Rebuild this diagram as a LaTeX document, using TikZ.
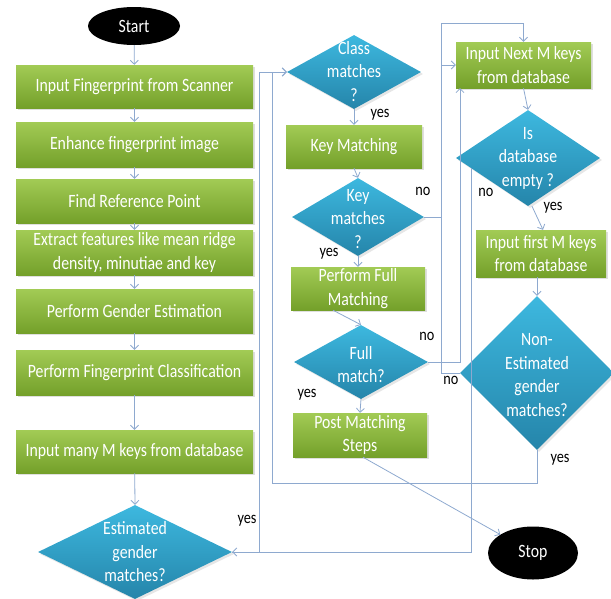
\documentclass[tikz,border=0pt]{standalone}
\usepackage{fontspec}
\setmainfont{Carlito}[FakeStretch=0.84]
\usetikzlibrary{shapes.geometric,arrows.meta,shadows}
\definecolor{gtop}{HTML}{A2CB55}
\definecolor{gbot}{HTML}{74A02A}
\definecolor{btop}{HTML}{3DB8DF}
\definecolor{bbot}{HTML}{2585AA}
\definecolor{lnk}{HTML}{8EA9CF}
\begin{document}
\begin{tikzpicture}[x=1pt,y=-1pt,
  txt/.style={font=\fontsize{18.8}{23.5}\selectfont, text=white, align=center},
  greenbox/.style={rectangle, inner sep=0pt, top color=gtop, bottom color=gbot, draw=none,
    txt, drop shadow={opacity=0.25, shadow xshift=2pt, shadow yshift=-2pt}},
  dia/.style={diamond, inner sep=0pt, top color=btop, bottom color=bbot, draw=none,
    drop shadow={opacity=0.2, shadow xshift=2pt, shadow yshift=-2pt}},
  term/.style={ellipse, fill=black, draw=none, text=white, inner sep=0pt,
    font=\fontsize{18.8}{22}\selectfont},
  conn/.style={draw=lnk, line width=0.8pt, -{Straight Barb[length=4pt,width=8pt]}},
  lbl/.style={font=\fontsize{17}{19}\selectfont, text=black, inner sep=0pt}
]
\useasboundingbox (0,0) rectangle (611,598);

% terminals
\node[term, minimum width=92pt, minimum height=38pt] (start) at (134,26) {Start};
\node[term, minimum width=90pt, minimum height=53pt] (stop) at (533,553) {Stop};

% left column
\node[greenbox, minimum width=237pt, minimum height=43pt] (b1) at (134.5,86.5) {Input Fingerprint from Scanner};
\node[greenbox, minimum width=237pt, minimum height=45pt] (b2) at (134.5,144.5) {Enhance fingerprint image};
\node[greenbox, minimum width=237pt, minimum height=44pt] (b3) at (134.5,201) {Find Reference Point};
\node[greenbox, minimum width=237pt, minimum height=45pt] (b4) at (134.5,252.5) {Extract features like mean ridge\\density, minutiae and key};
\node[greenbox, minimum width=237pt, minimum height=44pt] (b5) at (134.5,311) {Perform Gender Estimation};
\node[greenbox, minimum width=237pt, minimum height=45pt] (b6) at (134.5,372.5) {Perform Fingerprint Classification};
\node[greenbox, minimum width=237pt, minimum height=43pt] (b7) at (134.5,451.5) {Input many M keys from database};

\node[dia, minimum width=194pt, minimum height=94pt] (eq) at (135,552) {};
\node[txt] (eqt) at (135,552) {Estimated\\gender\\matches?};

% middle column
\node[dia, minimum width=134pt, minimum height=74pt] (cm) at (354,72) {};
\node[txt] (cmt) at (354,71.5) {Class\\matches\\?};
\node[greenbox, minimum width=136pt, minimum height=43pt] (km) at (354,146.5) {Key Matching};
\node[dia, minimum width=132pt, minimum height=78pt] (kq) at (358,217) {};
\node[txt] (kqt) at (358,219) {Key\\matches\\?};
\node[greenbox, minimum width=134pt, minimum height=43pt] (pf) at (358,288.5) {Perform Full\\Matching};
\node[dia, minimum width=134pt, minimum height=74pt] (fq) at (361,362) {};
\node[txt] (fqt) at (361,364.5) {Full\\match?};
\node[greenbox, minimum width=134pt, minimum height=44pt] (pm) at (360,435) {Post Matching\\Steps};

% right column
\node[greenbox, minimum width=135pt, minimum height=46pt] (in) at (523.5,65) {Input Next M keys\\from database};
\node[dia, minimum width=144pt, minimum height=96pt] (dq) at (528,158) {};
\node[txt] (dqt) at (528,158) {Is\\database\\empty ?};
\node[greenbox, minimum width=130pt, minimum height=47pt] (if) at (541,253.5) {Input first M keys\\from database};
\node[dia, minimum width=154pt, minimum height=154pt] (nq) at (537,373) {};
\node[txt] (nqt) at (537,375) {Non-\\Estimated\\gender\\matches?};

% bend points
\coordinate (p1) at (259,552);
\coordinate (p2) at (272,483);
\coordinate (p3) at (441,217);
\coordinate (p4) at (460,88);
\coordinate (p5) at (441,23);
\coordinate (p6) at (471,168);

% main column arrows
\draw[conn] (start) -- (b1);
\draw[conn] (b1) -- (b2);
\draw[conn] (b2) -- (b3);
\draw[conn] (b3) -- (b4);
\draw[conn] (b4) -- (b5);
\draw[conn] (b5) -- (b6);
\draw[conn] (b6) -- (b7);
\draw[conn] (b7) -- (eq.north);

% loops
\draw[conn] (eq.east) -- (p1) |- (cm.west);
\draw[conn] (nq.south) |- (p2) |- (cm.west);
\draw[conn] (kq.east) -- (p3) |- (in.west);
\draw[conn] (fq.east) -| (p4);
\draw[conn] (nq.west) -| (p5) -| (in.north);
\draw[conn] (p6) |- (eq.east);

% middle arrows
\draw[conn] (cm.south) -- (km.north);
\draw[conn] (km.south) -- (kq.north);
\draw[conn] (kq.south) -- (pf.north);
\draw[conn] ([xshift=-25pt]pf.south) -- (fq.north);
\draw[conn] (fq.south) -- (pm.north);
\draw[conn] ([xshift=3pt]pm.south) -- (stop);

% right arrows
\draw[conn] (in.south) -- (dq.north);
\draw[conn] ([xshift=4pt]dq.south) -- ([xshift=2pt]if.north);
\draw[conn] ([xshift=-4pt]if.south) -- (nq.north);

% labels
\node[lbl] (l1) at (247,521) {yes};
\node[lbl] (l2) at (380,115) {yes};
\node[lbl] (l3) at (423,191) {no};
\node[lbl] (l4) at (329,254) {yes};
\node[lbl] (l5) at (427,336) {no};
\node[lbl] (l6) at (307,395) {yes};
\node[lbl] (l7) at (486,192) {no};
\node[lbl] (l8) at (553,208) {yes};
\node[lbl] (l9) at (451,380) {no};
\node[lbl] (l10) at (560,460) {yes};
\end{tikzpicture}
\end{document}
